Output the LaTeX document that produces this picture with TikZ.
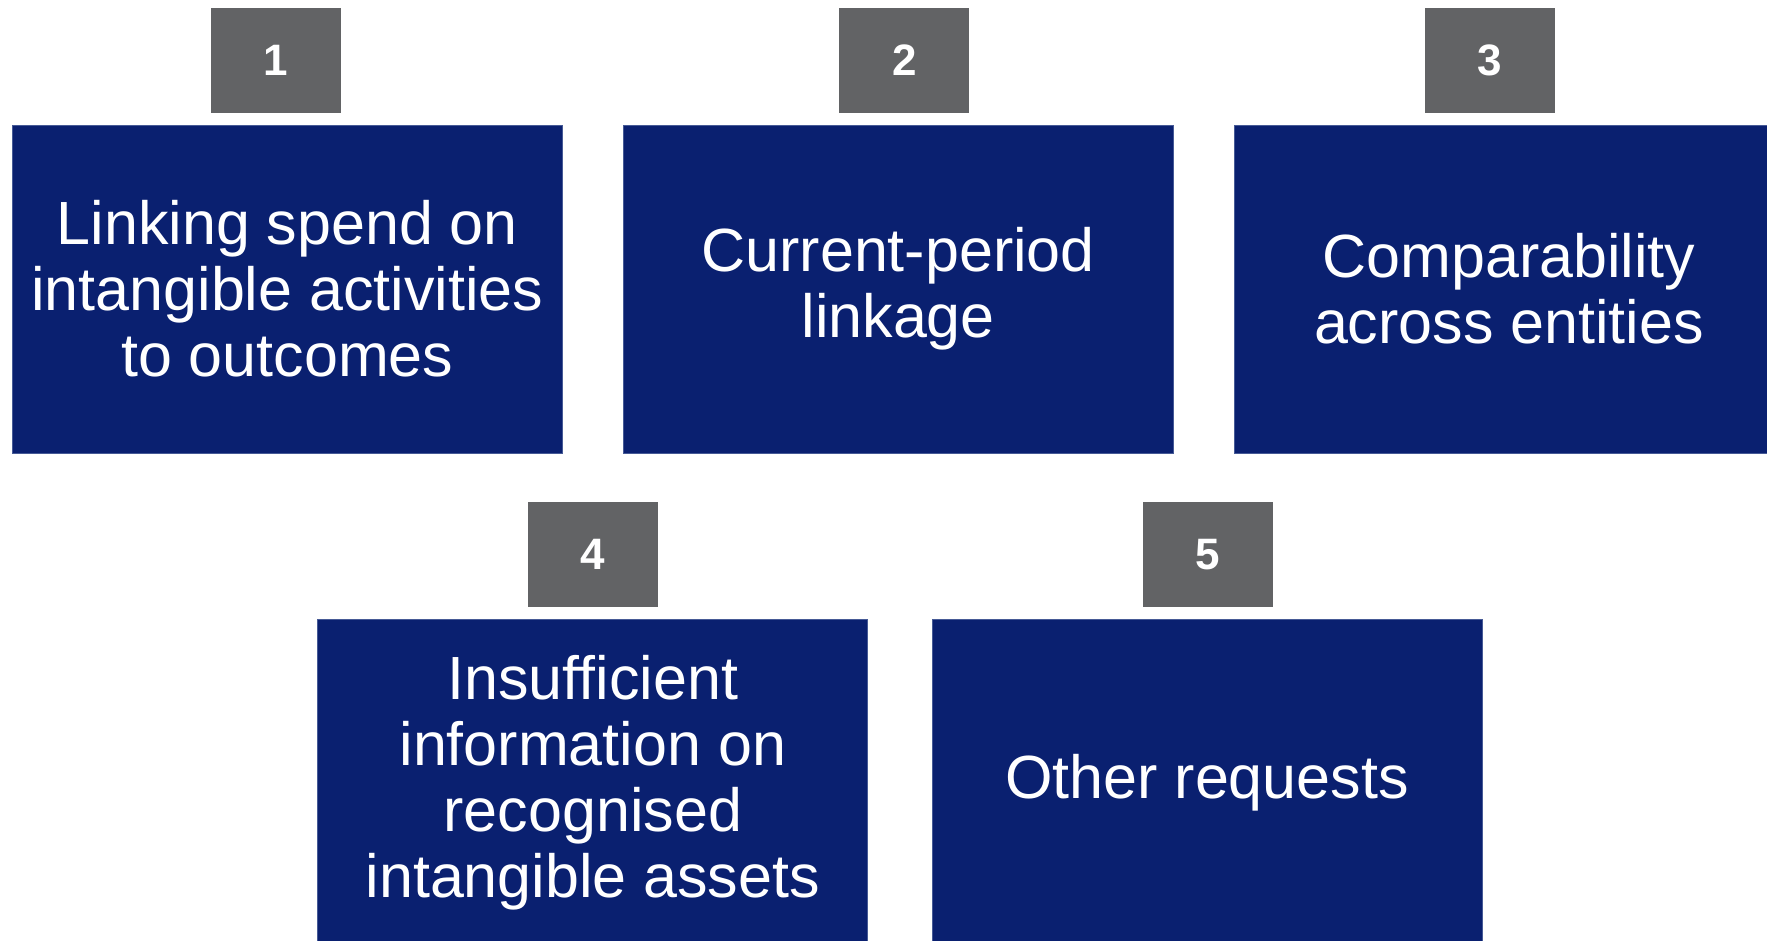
\documentclass[tikz,border=0pt]{standalone}
\usepackage{fontspec}
\setmainfont{Liberation Sans}
\definecolor{navy}{RGB}{10,32,112}
\definecolor{numgray}{RGB}{98,99,101}
\definecolor{edgeblue}{RGB}{70,90,150}
\begin{document}
\begin{tikzpicture}[x=1pt,y=1pt,
  numbox/.style={fill=numgray, text=white, minimum width=130pt, minimum height=105pt,
    inner sep=0pt, font=\fontsize{44}{48}\selectfont\bfseries},
  topicbox/.style={fill=navy, draw=edgeblue, line width=1pt, text=white, minimum width=550pt,
    minimum height=328pt, inner sep=0pt, align=center,
    font=\fontsize{61}{66}\selectfont}]
\clip (0,0) rectangle (1767,-940);
\fill[white] (0,0) rectangle (1767,-940);
% top row
\node[numbox] (n1) at (275.5,-60.5) {1};
\node[numbox] (n2) at (904.3,-60.5) {2};
\node[numbox] (n3) at (1489.8,-60.5) {3};
\node[topicbox] (b1) at (287.3,-289) {Linking spend on\\intangible activities\\to outcomes};
\node[topicbox] (b2) at (898.2,-289) {Current-period\\linkage};
\node[topicbox] (b3) at (1509,-289) {Comparability\\across entities};
% bottom row
\node[numbox] (n4) at (592.8,-554.5) {4};
\node[numbox] (n5) at (1208,-554.5) {5};
\node[topicbox] (b4) at (592.8,-783) {Insufficient\\information on\\recognised\\intangible assets};
\node[topicbox] (b5) at (1207,-783) {Other requests};
\end{tikzpicture}
\end{document}
